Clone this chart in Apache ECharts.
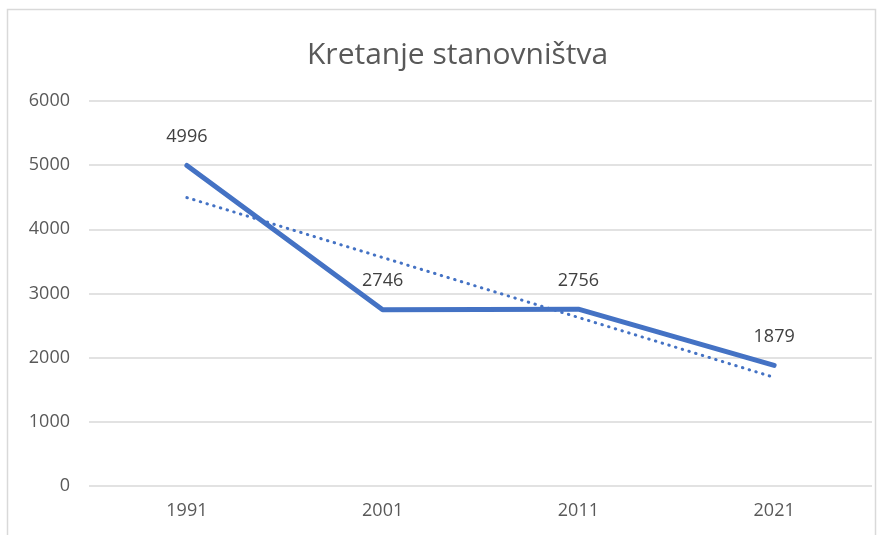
<!DOCTYPE html>
<html>
<head>
<meta charset="utf-8">
<script src="https://cdn.jsdelivr.net/npm/echarts@6/dist/echarts.min.js"></script>
<style>html,body{margin:0;padding:0;background:#fff}#c{width:885px;height:535px}</style>
</head>
<body>
<div id="c"></div>
<script>
const titleText = 'Kretanje stanovništva';
const categories = ['1991', '2001', '2011', '2021'];
const population = [4996, 2746, 2756, 1879];
const trend = [4495, 3561, 2627, 1693];
const yTicks = { min: 0, max: 6000, interval: 1000 };

const chart = echarts.init(document.getElementById('c'));
chart.setOption({
  animation: false,
  backgroundColor: '#fff',
  textStyle: { fontFamily: 'Open Sans' },
  title: {
    text: titleText, left: 302, top: 35,
    textStyle: { fontFamily: 'Open Sans', fontSize: 30, fontWeight: 'normal', color: '#595959' }
  },
  graphic: [{
    type: 'rect', shape: { x: 7.5, y: 9.5, width: 868, height: 540 },
    style: { fill: 'none', stroke: '#d9d9d9', lineWidth: 1.5 }, silent: true, z: -1
  }],
  grid: { left: 89, right: 13, top: 101, bottom: 49, containLabel: false },
  xAxis: {
    type: 'category', data: categories, boundaryGap: true,
    axisLine: { show: false }, axisTick: { show: false },
    axisLabel: { color: '#595959', fontSize: 18, margin: 16, fontFamily: 'Open Sans' }
  },
  yAxis: {
    type: 'value', min: yTicks.min, max: yTicks.max, interval: yTicks.interval,
    axisLine: { show: false }, axisTick: { show: false },
    splitLine: { lineStyle: { color: '#d9d9d9', width: 1.5 } },
    axisLabel: { color: '#595959', fontSize: 18, margin: 19, fontFamily: 'Open Sans', formatter: v => String(v) }
  },
  series: [{
    type: 'line', data: population, symbol: 'circle', symbolSize: 1, showSymbol: true,
    itemStyle: { color: '#4472C4', opacity: 0 },
    lineStyle: { color: '#4472C4', width: 5, cap: 'round', join: 'round' },
    label: { show: true, position: 'top', distance: 19, color: '#404040', fontSize: 18, fontFamily: 'Open Sans', opacity: 1 },
    z: 3
  }, {
    type: 'line', data: trend, symbol: 'none',
    lineStyle: { color: '#4472C4', width: 3, type: [0.5, 6.5], cap: 'round' },
    z: 2
  }]
});
</script>
</body>
</html>
